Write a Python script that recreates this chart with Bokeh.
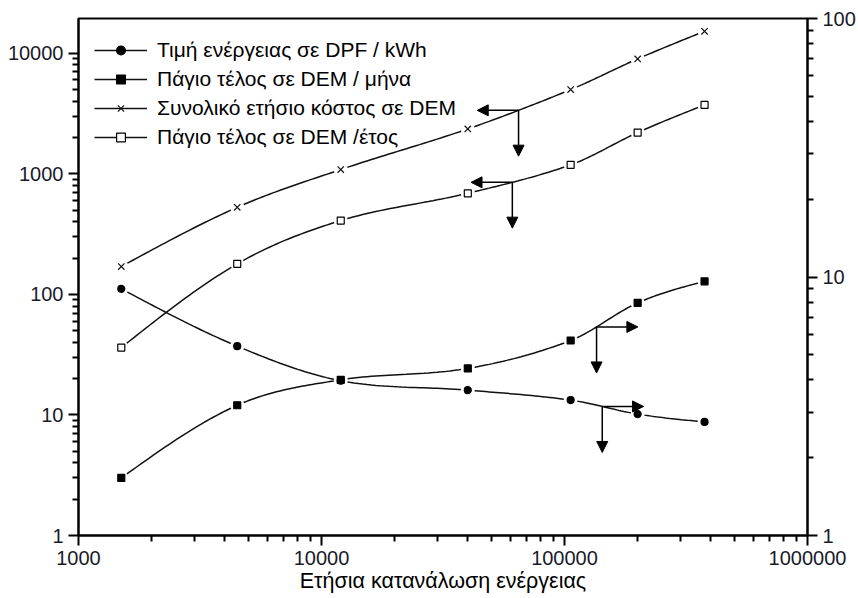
import numpy as np
from bokeh.plotting import figure
from bokeh.models import (Range1d, LogAxis, FixedTicker, PrintfTickFormatter,
                          Legend, LegendItem, Arrow, NormalHead)
from bokeh.embed import file_html
from bokeh.resources import INLINE

# ---------------- data ----------------
consumption = [1500, 4500, 12000, 40000, 106000, 200000, 377000]
energy_price = [9.0, 5.4, 3.97, 3.65, 3.34, 2.95, 2.75]        # right axis
monthly_fee = [1.67, 3.19, 4.0, 4.43, 5.68, 7.94, 9.62]         # right axis
total_annual = [170, 527, 1084, 2355, 4990, 8970, 15200]        # left axis
annual_fee = [36.2, 179, 409, 689, 1186, 2197, 3725]            # left axis

series_labels = ["Τιμή ενέργειας σε DPF / kWh",
                 "Πάγιο τέλος σε DEM / μήνα",
                 "Συνολικό ετήσιο κόστος σε DEM",
                 "Πάγιο τέλος σε DEM /έτος"]
x_label = "Ετήσια κατανάλωση ενέργειας"

x_ticks = [1000, 10000, 100000, 1000000]
left_ticks = [1, 10, 100, 1000, 10000]
right_ticks = [1, 10, 100]

# arrow anchors (x position along each curve)
arrow_x = {"total": 64700, "annual": 61000, "monthly": 135500, "price": 143000}

FONT = "Liberation Sans"
INK = "#111111"


def minor(ticks, top):
    out = []
    for t in ticks:
        for k in range(2, 10):
            if t * k < top:
                out.append(t * k)
    return out


def smooth(xs, ys, n=30):
    lx = np.log10(np.asarray(xs, float))
    ly = np.log10(np.asarray(ys, float))
    m = len(lx)
    t = np.empty(m)
    for i in range(1, m - 1):
        t[i] = (ly[i + 1] - ly[i - 1]) / (lx[i + 1] - lx[i - 1])
    d0 = (ly[1] - ly[0]) / (lx[1] - lx[0])
    d1 = (ly[-1] - ly[-2]) / (lx[-1] - lx[-2])
    t[0] = 1.5 * d0 - 0.5 * t[1]
    t[-1] = 1.5 * d1 - 0.5 * t[-2]
    X, Y = [], []
    s = np.linspace(0, 1, n)
    h00 = 2 * s**3 - 3 * s**2 + 1
    h10 = s**3 - 2 * s**2 + s
    h01 = -2 * s**3 + 3 * s**2
    h11 = s**3 - s**2
    for i in range(m - 1):
        h = lx[i + 1] - lx[i]
        xx = lx[i] + s * h
        yy = h00 * ly[i] + h10 * h * t[i] + h01 * ly[i + 1] + h11 * h * t[i + 1]
        X.extend(10 ** xx)
        Y.extend(10 ** yy)
    return X, Y


def curve_at(xs, ys, xq):
    X, Y = smooth(xs, ys, 200)
    return 10 ** np.interp(np.log10(xq), np.log10(X), np.log10(Y))


p = figure(width=858, height=598, x_axis_type="log", y_axis_type="log",
           x_range=Range1d(1000, 1000000), y_range=Range1d(1, 19400),
           output_backend="svg", toolbar_location=None,
           min_border_left=78, min_border_right=50, min_border_top=18,
           min_border_bottom=63, background_fill_color="white",
           border_fill_color="white")
p.extra_y_ranges = {"right": Range1d(1, 100)}
p.grid.visible = False
p.outline_line_color = "black"
p.outline_line_width = 2


def style_axis(ax, ticks, top):
    ax.ticker = FixedTicker(ticks=ticks, minor_ticks=minor(ticks, top))
    ax.formatter = PrintfTickFormatter(format="%d")
    ax.axis_line_width = 2
    ax.axis_line_color = "black"
    ax.major_tick_line_width = 2
    ax.minor_tick_line_width = 2
    ax.major_tick_out = 10
    ax.major_tick_in = 0
    ax.minor_tick_out = 6
    ax.minor_tick_in = 0
    ax.major_label_text_font = FONT
    ax.major_label_text_font_size = "20px"
    ax.major_label_text_color = "#1a1a2a"
    ax.major_label_standoff = 5


style_axis(p.xaxis[0], x_ticks, 1000001)
style_axis(p.yaxis[0], left_ticks, 19400)
p.xaxis[0].axis_label = x_label
p.xaxis[0].axis_label_text_font = FONT
p.xaxis[0].axis_label_text_font_size = "21.5px"
p.xaxis[0].axis_label_text_font_style = "normal"
p.xaxis[0].axis_label_text_color = "black"
p.xaxis[0].axis_label_standoff = 1

rax = LogAxis(y_range_name="right")
style_axis(rax, right_ticks, 100)
p.add_layout(rax, "right")

# ---------------- series ----------------
specs = [
    (energy_price, "right", "circle", 7, "black", "price"),
    (monthly_fee, "right", "square", 7, "black", "monthly"),
    (total_annual, "default", "x", 9, None, "total"),
    (annual_fee, "default", "square", 7, "white", "annual"),
]

lines, marks = [], []
for vals, rng, marker, size, fill, key in specs:
    X, Y = smooth(consumption, vals)
    ln = p.line(X, Y, line_color=INK, line_width=1.5, y_range_name=rng)
    lines.append(ln)

for vals, rng, marker, size, fill, key in specs:
    p.scatter(consumption, vals, marker="circle", size=14, fill_color="white",
              line_color=None, y_range_name=rng)

for vals, rng, marker, size, fill, key in specs:
    if marker == "x":
        m = p.scatter(consumption, vals, marker="x", size=size, line_color=INK,
                      line_width=1.2, y_range_name=rng)
    else:
        m = p.scatter(consumption, vals, marker=marker, size=size,
                      fill_color=fill, line_color="black", line_width=1.2,
                      y_range_name=rng)
    marks.append(m)

# ---------------- axis-indicating arrows ----------------
H_DEC = 0.17          # horizontal arrow length in decades of x
V_LEFT = 0.38         # vertical arrow length (decades, left axis)
V_RIGHT = 0.178       # vertical arrow length (decades, right axis)

for vals, rng, marker, size, fill, key in specs:
    ax0 = arrow_x[key]
    ay0 = float(curve_at(consumption, vals, ax0))
    direction = -1 if rng == "default" else 1
    vlen = V_LEFT if rng == "default" else V_RIGHT
    p.add_layout(Arrow(x_start=ax0, y_start=ay0,
                       x_end=ax0 * 10 ** (direction * H_DEC), y_end=ay0,
                       line_width=1.5, line_color="black",
                       end=NormalHead(size=11, fill_color="black", line_color="black"),
                       y_range_name=rng))
    p.add_layout(Arrow(x_start=ax0, y_start=ay0,
                       x_end=ax0, y_end=ay0 / 10 ** vlen,
                       line_width=1.5, line_color="black",
                       end=NormalHead(size=11, fill_color="black", line_color="black"),
                       y_range_name=rng))

# ---------------- legend ----------------
items = [LegendItem(label=series_labels[i], renderers=[lines[i], marks[i]])
         for i in range(4)]
legend = Legend(items=items, location=(16, 386), margin=0, padding=0,
                spacing=5, glyph_width=53, glyph_height=22, label_height=22,
                label_standoff=10, label_text_font=FONT,
                label_text_font_size="21px", label_text_color="black",
                background_fill_alpha=0, border_line_color=None)
p.add_layout(legend)

open("out.html", "w").write(file_html(p, INLINE))
